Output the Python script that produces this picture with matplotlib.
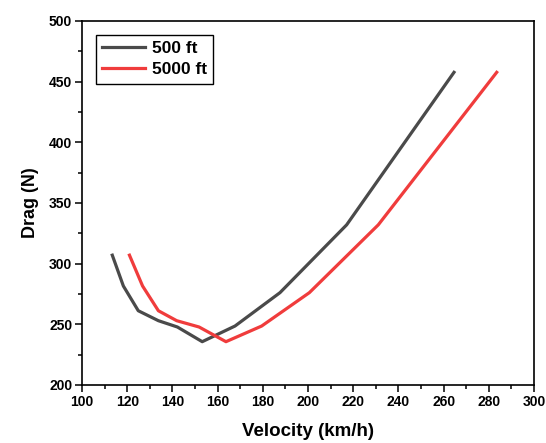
import matplotlib
matplotlib.use("Agg")
import matplotlib.pyplot as plt
from matplotlib.ticker import MultipleLocator

plt.rcParams['font.family'] = ['Liberation Sans', 'DejaVu Sans']
plt.rcParams['font.weight'] = 'bold'

drag = [307, 281.6, 261.2, 253, 247.8, 235.7, 248.6, 276.1, 332, 457.7]
vel_500 = [113.4, 118.3, 124.9, 133.8, 142.2, 153.2, 167.7, 187.6, 217.1, 264.6]
vel_5000 = [121.0, 126.8, 133.8, 141.9, 151.8, 163.7, 179.5, 200.6, 231.1, 283.5]
labels = ["500 ft", "5000 ft"]

fig = plt.figure(figsize=(5.46, 4.43), dpi=100)
ax = fig.add_axes([82/546, 1-385/443, (534-82)/546, (385-21)/443])

ax.plot(vel_500, drag, color='#4a4a4a', lw=2.3, label=labels[0])
ax.plot(vel_5000, drag, color='#f03c3c', lw=2.3, label=labels[1])

ax.set_xlim(100, 300)
ax.set_ylim(200, 500)
ax.xaxis.set_major_locator(MultipleLocator(20))
ax.xaxis.set_minor_locator(MultipleLocator(10))
ax.yaxis.set_major_locator(MultipleLocator(50))
ax.yaxis.set_minor_locator(MultipleLocator(25))
ax.tick_params(which='both', direction='out', top=False, right=False, width=1.1)
ax.tick_params(which='major', length=5, labelsize=10, pad=2)
ax.tick_params(which='minor', length=3)
for lab in ax.get_xticklabels() + ax.get_yticklabels():
    lab.set_fontweight('bold')
for s in ax.spines.values():
    s.set_linewidth(1.2)

ax.set_xlabel("Velocity (km/h)", fontsize=13.5, fontweight='bold', labelpad=10)
ax.set_ylabel("Drag (N)", fontsize=13, fontweight='bold', labelpad=7)

leg = ax.legend(loc='upper left', bbox_to_anchor=(14/452, 1-14/364), fancybox=False,
                edgecolor='black', framealpha=1, prop={'size': 12.5, 'weight': 'bold'},
                handlelength=2.5, handletextpad=0.35, borderpad=0.35, labelspacing=0.35,
                borderaxespad=0)
leg.get_frame().set_linewidth(1.0)

fig.savefig("out.png", dpi=100)
